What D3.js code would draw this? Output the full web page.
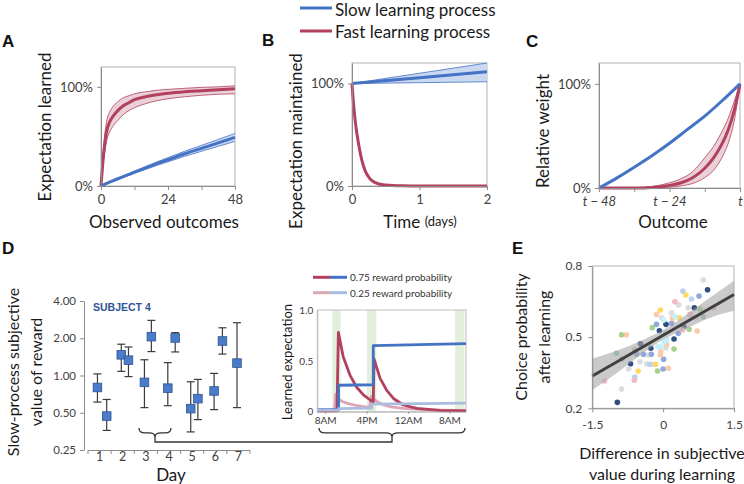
<!DOCTYPE html>
<html><head><meta charset="utf-8">
<script src="https://cdn.jsdelivr.net/npm/d3@7/dist/d3.min.js"></script>
<style>body{margin:0;background:#fff} svg{display:block;background:#fff}</style>
</head><body><svg id="c" width="744" height="484"></svg>
<script>
// ---------- DATA ----------
// Panel A: learning curves (% learned vs observed outcomes)
const aX        = [0,1,2,3,4,6,8,10,12,16,20,24,30,36,42,48];
const aFast     = [0,34,55,64,69,76,81,84,87,90,92,93.5,95,96,97,98];
const aFastHi   = [0,42,65,74,79,85,89,91,93,95,96.5,97.5,98.5,99.5,100,101];
const aFastLo   = [0,27,45,54,59,66,72,76,79,83,86,88,90,91.5,92.5,93];
const aSlow     = [0,1.3,2.6,3.8,5,7.3,9.5,11.7,14,18.2,22.5,26.5,32.5,38,43.5,49];
const aSlowHi   = [0,1.4,2.8,4.1,5.4,7.9,10.3,12.6,15.1,19.7,24.3,28.6,35.1,41,47,53];
const aSlowLo   = [0,1.2,2.4,3.5,4.6,6.7,8.7,10.8,12.9,16.7,20.7,24.4,29.9,35,40,45];
// Panel B: expectation maintained vs time (days)
const bFastX    = [0,0.02,0.05,0.1,0.15,0.2,0.25,0.3,0.4,0.5,0.75,1,1.5,2];
const bFast     = [100,82,62,40,24,14,8.5,5,2,1,0.2,0,0,0];
const bSlowX    = [0,1,2];
const bSlow     = [100,105.7,111.5];
const bSlowHi   = [100,110,120];
const bSlowLo   = [100,100.8,101.7];
// Panel C: relative weight of past outcomes
const cSlowX    = [-48,-42,-36,-30,-24,-18,-12,-6,0];
const cSlow     = [0,9.5,20,31,43,56,69,84,100];
const cFastX    = [-48,-36,-30,-24,-20,-16,-12,-9,-6,-4,-2,0];
const cFast     = [0,0,0.5,2.5,5,10,19,29,43,56,74,100];
const cFastHi   = [0,0.3,1.5,5,9,16,29,40,55,67,83,100];
const cFastLo   = [0,0,0,0.8,2,4.5,10,17,30,43,64,100];
// Panel D: slow-process subjective value per session (subject 4)
const dDays     = [1,2,3,4,5,6,7];
const dSession  = [0.93,1.33,1.96,2.27,2.96,3.26,3.97,4.29,4.96,5.27,5.97,6.33,6.96];
const dValue    = [0.80,0.47,1.47,1.33,0.88,2.06,0.79,2.01,0.54,0.65,0.75,1.90,1.26];
const dHigh     = [1.03,0.64,1.79,1.70,1.34,2.79,1.27,2.22,0.89,0.93,1.04,2.43,2.67];
const dLow      = [0.61,0.36,1.08,0.98,0.55,1.56,0.57,1.55,0.35,0.44,0.53,1.49,0.55];
const dYTicks   = [0.25,0.5,1,2,4];
// Inset: learned expectation over hours (0 = 8AM)
const insTickH  = [0,8,16,24];
const insTickL  = ["8AM","4PM","12AM","8AM"];
const sessStart = [1.4,8.1,25.1];
const sessEnd   = [3.0,9.9,26.9];
const hiRedH    = [-1.5,2.3,2.57,3.5,4.8,6.1,7.4,8.7,9.3,9.45,10.6,11.9,13.2,15.1,17.7,22.2,27.2];
const hiRedV    = [0.005,0.005,0.78,0.54,0.36,0.24,0.165,0.115,0.095,0.52,0.33,0.21,0.13,0.066,0.033,0.012,0.008];
const loRedH    = [-1.5,1.8,2.05,2.6,3.3,4.5,5.9,7.2,8.6,8.9,10,11.3,13,15.1,20,27.2];
const loRedV    = [0.005,0.005,0.17,0.13,0.1,0.08,0.062,0.052,0.043,0.15,0.1,0.066,0.045,0.033,0.018,0.01];
const hiBlueH   = [-1.5,2.6,2.6,9.3,9.3,27.2];
const hiBlueV   = [0.02,0.02,0.26,0.265,0.65,0.67];
const loBlueH   = [-1.5,2.6,2.6,9.0,9.0,27.2];
const loBlueV   = [0.015,0.015,0.03,0.035,0.075,0.085];
// Panel E: scatter (difference in subjective value vs choice probability)
const eX = [-0.97,-0.69,-0.48,-0.26,-0.08,0.06,0.23,0.44,0.66,0.94,
  -0.88,-0.73,-0.49,-0.32,-0.35,-0.19,-0.03,0.04,0.06,0.18,0.33,0.53,0.69,0.85,
  -0.60,-0.28,0.42,0.60,
  -0.87,-0.56,-0.42,-0.25,-0.14,0.0,0.01,0.18,0.32,0.76,
  -0.53,-0.16,-0.06,0.34,0.48,
  -0.78,-0.06,-0.14,0.20,0.07,0.11,0.72,-0.05,
  -1.24,-0.61,0.25,0.57,0.41,1.07,
  -0.88,-0.60,-0.23,-0.12,0.23,0.55,0.78,
  -0.99,0.85,
  -0.11,-0.05,0.01,0.25,0.02,0.08];
const eY = [0.225,0.388,0.472,0.453,0.527,0.554,0.492,0.544,0.624,0.700,
  0.281,0.366,0.396,0.425,0.387,0.386,0.582,0.516,0.456,0.603,0.636,0.624,0.582,0.741,
  0.332,0.386,0.694,0.661,
  0.408,0.428,0.428,0.428,0.554,0.366,0.407,0.558,0.516,0.673,
  0.357,0.386,0.614,0.582,0.678,
  0.510,0.425,0.596,0.579,0.470,0.369,0.526,0.440,
  0.315,0.318,0.649,0.596,0.530,0.624,
  0.510,0.446,0.540,0.357,0.450,0.533,0.619,
  0.432,0.586,
  0.460,0.460,0.572,0.586,0.480,0.490];
const eGroup = ["N","N","N","N","N","N","N","N","N","N",
  "G","G","G","G","G","G","G","G","G","G","G","G","G","G",
  "LB","LB","LB","LB",
  "L","L","L","L","L","L","L","L","L","L",
  "Y","Y","Y","Y","Y",
  "P","P","P","P","P","P","P","P",
  "K","K","K","K","K","K",
  "Gr","Gr","Gr","Gr","Gr","Gr","Gr",
  "T","T",
  "C","C","C","C","C","C"];
const eFitX  = [-1.5,1.5];
const eFitY  = [0.336,0.68];
const eBandX = [-1.5,-1,-0.5,0,0.5,1,1.5];
const eBandHi= [0.410,0.442,0.482,0.530,0.597,0.668,0.738];
const eBandLo= [0.277,0.346,0.422,0.490,0.538,0.582,0.611];

// ---------- STYLE ----------
const RED="#b3405e", BLUE="#4472c4", PINK="#dca6b6", LBLUE="#a9bde0";
const FONT="Lato, 'Open Sans', sans-serif";
const TICKC="#404040", AXC="#8c8c8c";
const groupColor = {N:"#2f4f7f",G:"#dcdcdc",LB:"#bcd0f0",L:"#8fa8db",Y:"#ffd966",P:"#f8cbad",K:"#f4b8c8",Gr:"#a9d18e",T:"#9dc7c8",C:"#c6f2f7"};

const svg = d3.select("#c");
svg.append("rect").attr("width",744).attr("height",484).attr("fill","#fff");

function txt(x,y,s,opt={}){
  const t = svg.append("text").attr("x",x).attr("y",y).text(s)
    .attr("font-family",opt.family||FONT).attr("font-size",opt.size||16)
    .attr("fill",opt.fill||"#1a1a1a").attr("text-anchor",opt.anchor||"middle")
    .attr("dominant-baseline",opt.base||"central");
  if(opt.weight) t.attr("font-weight",opt.weight);
  if(opt.rot!==undefined) t.attr("transform",`rotate(${opt.rot},${x},${y})`);
  if(opt.style) t.attr("font-style",opt.style);
  return t;
}
function boxFrame(x,y,color="#b3b3b3"){
  const [x0,x1]=x.range(), [y0,y1]=y.range();
  svg.append("rect").attr("x",x0).attr("y",y1).attr("width",x1-x0).attr("height",y0-y1)
    .attr("fill","none").attr("stroke",color).attr("stroke-width",1);
}
function styleAxis(g,fs,extra){
  g.attr("font-family",FONT);
  g.select(".domain").attr("stroke",AXC);
  g.selectAll(".tick line").attr("stroke",AXC);
  g.selectAll(".tick text").attr("font-size",fs).attr("fill",TICKC);
  if(extra) extra(g);
  return g;
}
function xAxisAt(x,yPos,ticks,fmt,fs,pad,size=4){
  return styleAxis(svg.append("g").attr("transform",`translate(0,${yPos})`)
    .call(d3.axisBottom(x).tickValues(ticks).tickSize(size).tickSizeOuter(0).tickPadding(pad).tickFormat(fmt)),fs);
}
function yAxisAt(y,xPos,ticks,fmt,fs,pad,size=4){
  return styleAxis(svg.append("g").attr("transform",`translate(${xPos},0)`)
    .call(d3.axisLeft(y).tickValues(ticks).tickSize(size).tickSizeOuter(0).tickPadding(pad).tickFormat(fmt)),fs);
}
function zip(xs,ys){ return xs.map((v,i)=>[v,ys[i]]); }
function drawBand(x,y,xs,lo,hi,fill,edge){
  const d = xs.map((v,i)=>({x:v,lo:lo[i],hi:hi[i]}));
  svg.append("path").datum(d).attr("fill",fill).attr("stroke","none")
    .attr("d",d3.area().x(p=>x(p.x)).y0(p=>y(p.lo)).y1(p=>y(p.hi)).curve(d3.curveMonotoneX));
  [lo,hi].forEach(arr=>{
    svg.append("path").datum(zip(xs,arr)).attr("fill","none").attr("stroke",edge).attr("stroke-width",0.8)
      .attr("d",d3.line().x(p=>x(p[0])).y(p=>y(p[1])).curve(d3.curveMonotoneX));
  });
}
function drawLine(x,y,xs,ys,color,w,curve=d3.curveMonotoneX){
  svg.append("path").datum(zip(xs,ys)).attr("fill","none").attr("stroke",color).attr("stroke-width",w)
    .attr("stroke-linejoin","round")
    .attr("d",d3.line().x(p=>x(p[0])).y(p=>y(p[1])).curve(curve));
}
const pct = d=>d+"%";

// ---------- PANEL LETTERS ----------
[["A",2,41],["B",262,40],["C",526,41],["D",2,248],["E",512,248]].forEach(([s,x,y])=>
  txt(x,y,s,{family:"'Liberation Sans', Arial, sans-serif",size:17,weight:"bold",anchor:"start",fill:"#111"}));

// ---------- LEGEND ----------
svg.append("line").attr("x1",300).attr("x2",332).attr("y1",8).attr("y2",8).attr("stroke",BLUE).attr("stroke-width",3);
svg.append("line").attr("x1",300).attr("x2",332).attr("y1",31).attr("y2",31).attr("stroke",RED).attr("stroke-width",3);
txt(335,9,"Slow learning process",{size:17,anchor:"start"});
txt(335,31,"Fast learning process",{size:17,anchor:"start"});

// ---------- PANEL A ----------
{
  const x=d3.scaleLinear().domain([0,48]).range([101,235]);
  const y=d3.scaleLinear().domain([0,120]).range([186,67]);
  boxFrame(x,y);
  drawBand(x,y,aX,aFastLo,aFastHi,"#ead0d8",RED);
  drawBand(x,y,aX,aSlowLo,aSlowHi,"#cad8f0",BLUE);
  drawLine(x,y,aX,aFast,RED,3);
  drawLine(x,y,aX,aSlow,BLUE,3);
  xAxisAt(x,186,[0,12,24,36,48],d=>d%24===0?d:"",13,5);
  yAxisAt(y,101,[0,100],pct,13,4);
  txt(44,127,"Expectation learned",{size:17,rot:-90});
  txt(164,221,"Observed outcomes",{size:17});
}
// ---------- PANEL B ----------
{
  const x=d3.scaleLinear().domain([0,2]).range([352,487]);
  const y=d3.scaleLinear().domain([0,120]).range([186,63]);
  boxFrame(x,y);
  drawBand(x,y,bSlowX,bSlowLo,bSlowHi,"#cad8f0",BLUE);
  drawLine(x,y,bSlowX,bSlow,BLUE,3);
  drawLine(x,y,bFastX,bFast,RED,3);
  xAxisAt(x,186,[0,1,2],d=>d,13,5);
  yAxisAt(y,352,[0,100],pct,13,4);
  txt(295,141,"Expectation maintained",{size:17,rot:-90});
  const t=txt(420,221,"",{size:17});
  t.append("tspan").text("Time ");
  t.append("tspan").attr("font-size",13).text("(days)");
}
// ---------- PANEL C ----------
{
  const x=d3.scaleLinear().domain([-48,0]).range([599,740]);
  const y=d3.scaleLinear().domain([0,120]).range([188,63]);
  boxFrame(x,y);
  drawBand(x,y,cFastX,cFastLo,cFastHi,"#ead0d8",RED);
  drawLine(x,y,cFastX,cFast,RED,3);
  drawLine(x,y,cSlowX,cSlow,BLUE,3);
  const g=xAxisAt(x,188,[-48,-36,-24,-12,0],d=>d===0?"t":(d%24===0?"t \u2212 "+(-d):""),13,5);
  g.selectAll(".tick text").attr("font-style","italic");
  yAxisAt(y,599,[0,100],pct,13,4);
  txt(542,131,"Relative weight",{size:17,rot:-90});
  txt(673,221,"Outcome",{size:17});
}
// ---------- PANEL D ----------
{
  const x=d3.scaleLinear().domain([0.5,7.5]).range([87.5,249.5]);
  const y=d3.scaleLog().base(2).domain([0.25,4]).range([450,301]);
  yAxisAt(y,84,dYTicks,d3.format(".2f"),11.5,4);
  xAxisAt(x,450,[0.5,1.5,2.5,3.5,4.5,5.5,6.5,7.5],()=>"",12,3);
  const gl=styleAxis(svg.append("g").attr("transform","translate(0,450)")
    .call(d3.axisBottom(x).tickValues(dDays).tickSize(0).tickPadding(2).tickFormat(d=>d)),12.5);
  gl.select(".domain").remove();
  // error bars
  const eb=svg.append("g").attr("stroke","#3a3a3a").attr("stroke-width",1.2);
  dSession.forEach((s,i)=>{
    const cx=x(s);
    eb.append("line").attr("x1",cx).attr("x2",cx).attr("y1",y(dLow[i])).attr("y2",y(dHigh[i]));
    eb.append("line").attr("x1",cx-4).attr("x2",cx+4).attr("y1",y(dLow[i])).attr("y2",y(dLow[i]));
    eb.append("line").attr("x1",cx-4).attr("x2",cx+4).attr("y1",y(dHigh[i])).attr("y2",y(dHigh[i]));
  });
  svg.append("g").selectAll("rect").data(dSession).join("rect")
    .attr("x",(s)=>x(s)-4.3).attr("y",(s,i)=>y(dValue[i])-4.3).attr("width",8.6).attr("height",8.6)
    .attr("fill","#4a7ccc").attr("stroke","#2f528f").attr("stroke-width",0.8);
  txt(93,307,"SUBJECT 4",{family:"'Liberation Sans', Arial, sans-serif",size:10.5,weight:"bold",anchor:"start",fill:"#2f5597"});
  txt(12,372,"Slow-process subjective",{size:16,rot:-90});
  txt(35,372,"value of reward",{size:16,rot:-90});
  txt(171,474,"Day",{size:17});
}
// ---------- BRACES / CONNECTOR ----------
function brace(x1,x2,yTop,h){
  const xm=(x1+x2)/2, r=Math.min(6,(x2-x1)/4), ym=yTop+h*0.55;
  return `M${x1},${yTop} Q${x1},${ym} ${x1+r},${ym} L${xm-r},${ym} Q${xm},${ym} ${xm},${yTop+h} Q${xm},${ym} ${xm+r},${ym} L${x2-r},${ym} Q${x2},${ym} ${x2},${yTop}`;
}
svg.append("path").attr("d",brace(139,171,428,9)).attr("fill","none").attr("stroke","#333").attr("stroke-width",1.3);
svg.append("path").attr("d",brace(319,465,428,9)).attr("fill","none").attr("stroke","#333").attr("stroke-width",1.3);
svg.append("path").attr("d","M155,437 L155,442 L392,442 L392,437").attr("fill","none").attr("stroke","#333").attr("stroke-width",1.3);

// ---------- INSET ----------
{
  const x=d3.scaleLinear().domain([-1.5,27.2]).range([317.3,466]);
  const y=d3.scaleLinear().domain([0,1]).range([411.7,310]);
  svg.append("g").selectAll("rect").data(sessStart).join("rect")
    .attr("x",d=>x(d)).attr("width",(d,i)=>x(sessEnd[i])-x(d)).attr("y",310).attr("height",101.7)
    .attr("fill","#e2efda");
  boxFrame(x,y,"#bdbdbd");
  drawLine(x,y,loRedH,loRedV,PINK,2.8,d3.curveLinear);
  drawLine(x,y,hiRedH,hiRedV,RED,2.8,d3.curveLinear);
  drawLine(x,y,hiBlueH,hiBlueV,BLUE,2.8,d3.curveLinear);
  drawLine(x,y,loBlueH,loBlueV,LBLUE,2.8,d3.curveLinear);
  const gx=xAxisAt(x,411.7,insTickH,(d,i)=>insTickL[i],10,3,2);
  gx.select(".domain").attr("stroke","#bdbdbd");
  yAxisAt(y,317.3,[0,0.5,1],d=>d===1?"1.0":d,10,4,0).select(".domain").attr("stroke","#bdbdbd");
  txt(287,362,"Learned expectation",{size:13,rot:-90});
  // legend
  [[277.3,RED,BLUE,"0.75 reward probability"],[292.7,PINK,LBLUE,"0.25 reward probability"]].forEach(([yy,c1,c2,s])=>{
    svg.append("line").attr("x1",313).attr("x2",330).attr("y1",yy).attr("y2",yy).attr("stroke",c1).attr("stroke-width",3);
    svg.append("line").attr("x1",330).attr("x2",347).attr("y1",yy).attr("y2",yy).attr("stroke",c2).attr("stroke-width",3);
    txt(350,yy,s,{size:10,anchor:"start",fill:"#333"});
  });
}
// ---------- PANEL E ----------
{
  const x=d3.scaleLinear().domain([-1.5,1.5]).range([592.3,734]);
  const y=d3.scaleLinear().domain([0.2,0.8]).range([408.3,266]);
  boxFrame(x,y);
  svg.append("g").selectAll("circle").data(eX).join("circle")
    .attr("cx",d=>x(d)).attr("cy",(d,i)=>y(eY[i])).attr("r",2.8)
    .attr("fill",(d,i)=>groupColor[eGroup[i]]);
  const band=eBandX.map((v,i)=>({x:v,lo:eBandLo[i],hi:eBandHi[i]}));
  svg.append("path").datum(band).attr("fill","#a6a6a6").attr("fill-opacity",0.6)
    .attr("d",d3.area().x(p=>x(p.x)).y0(p=>y(p.lo)).y1(p=>y(p.hi)).curve(d3.curveMonotoneX));
  drawLine(x,y,eFitX,eFitY,"#404040",3,d3.curveLinear);
  xAxisAt(x,408.3,[-1.5,0,1.5],d=>d,12,8);
  yAxisAt(y,592.3,[0.2,0.5,0.8],d3.format(".1f"),12,6);
  txt(520,337,"Choice probability",{size:16,rot:-90});
  txt(543,337,"after learning",{size:16,rot:-90});
  txt(662,452,"Difference in subjective",{size:16});
  txt(662,473,"value during learning",{size:16});
}
</script></body></html>
